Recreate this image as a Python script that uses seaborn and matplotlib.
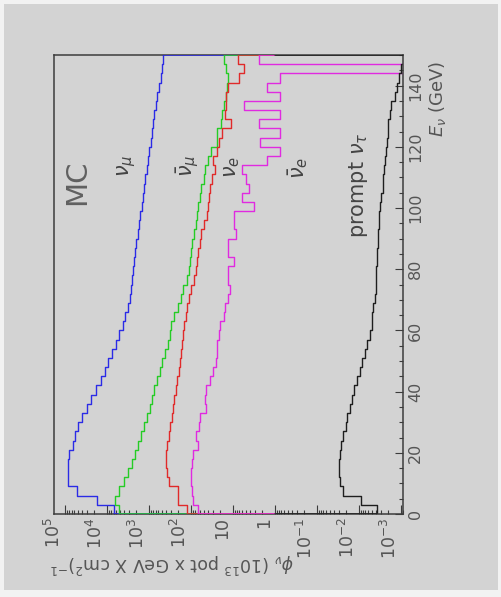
import numpy as np
import pandas as pd
import matplotlib
matplotlib.use("Agg")
import matplotlib.pyplot as plt
import matplotlib.transforms as mtransforms
from matplotlib.patches import Rectangle
from matplotlib.ticker import FixedLocator, FixedFormatter, LogLocator, MultipleLocator, NullFormatter
import seaborn as sns

# ---- data -------------------------------------------------------------
# energy binning (GeV): 50 bins of 3 GeV from 0 to 150
energy_edges = list(range(0, 151, 3))

# flux per bin, units of (10^13 pot x GeV x cm^2)^-1
nu_mu = [6730, 16900, 52400, 85200, 87200, 87200, 79500, 66100, 59000, 49000,
         38900, 29500, 23500, 18600, 14100, 11200, 9340, 7410, 6170, 5130,
         4260, 3800, 3240, 2820, 2640, 2510, 2400, 2290, 2150, 2000,
         1860, 1740, 1620, 1480, 1410, 1320, 1230, 1120, 1050, 977,
         910, 852, 795, 759, 692, 632, 575, 524, 501, 457]

nu_mu_bar = [5130, 6610, 5130, 3890, 3170, 2570, 2180, 1820, 1510, 1320,
             1120, 956, 832, 759, 632, 550, 479, 417, 355, 317,
             302, 251, 204, 170, 151, 126, 112, 105, 97.7, 93.4,
             85.2, 77.7, 72.4, 67.7, 61.7, 59.0, 50.1, 46.8, 38.9, 33.9,
             24.6, 23.5, 19.5, 17.8, 16.2, 14.8, 14.1, 13.5, 14.8, 16.2]

nu_e = [123, 204, 204, 331, 380, 399, 389, 364, 331, 317,
        288, 269, 251, 229, 218, 191, 182, 174, 166, 159,
        145, 135, 123, 112, 97.7, 85.2, 77.7, 70.8, 67.7, 61.7,
        59.0, 49.0, 42.6, 38.9, 37.1, 35.5, 30.9, 26.9, 29.5, 24.6,
        21.3, 17.8, 11.2, 15.9, 14.8, 14.5, 13.5, 7.24, 5.50, 7.77]

nu_e_bar = [67.7, 89.2, 93.4, 97.7, 102, 93.4, 87.2, 67.7, 77.7, 64.6,
            61.7, 44.6, 45.7, 44.6, 35.5, 29.5, 25.7, 23.5, 23.5, 21.3,
            20.4, 16.2, 15.9, 13.5, 11.5, 13.2, 13.2, 9.34, 13.2, 13.5,
            8.52, 9.34, 9.34, 3.17, 6.02, 4.17, 5.01, 6.02, 1.51, 0.76,
            2.29, 0.76, 2.40, 0.76, 5.50, 0.76, 1.51, 0.76, 0.0, 2.40]

prompt_nu_tau = [0.00364, 0.00912, 0.0246, 0.0288, 0.0295, 0.0295, 0.0282, 0.0264, 0.0235, 0.0204,
                 0.0191, 0.0166, 0.0148, 0.0132, 0.0112, 0.00956, 0.00832, 0.00724, 0.00632, 0.00550,
                 0.00501, 0.00479, 0.00457, 0.00426, 0.00399, 0.00399, 0.00389, 0.00380, 0.00364, 0.00355,
                 0.00355, 0.00331, 0.00331, 0.00317, 0.00302, 0.00275, 0.00264, 0.00251, 0.00246, 0.00229,
                 0.00218, 0.00209, 0.00200, 0.00182, 0.00174, 0.00141, 0.00123, 0.00112, 0.00102, 0.0]

# histogram outlines are closed down to this flux level
baseline = 1.0

series = [
    (nu_mu, "#2b2be6"),
    (nu_mu_bar, "#25cc25"),
    (nu_e, "#e02a2a"),
    (nu_e_bar, "#e02ae0"),
    (prompt_nu_tau, "#1e1e1e"),
]

flux_ticks = [1e5, 1e4, 1e3, 1e2, 1e1, 1e0, 1e-1, 1e-2, 1e-3]
flux_tick_labels = [r"$10^{5}$", r"$10^{4}$", r"$10^{3}$", r"$10^{2}$", "10", "1",
                    r"$10^{-1}$", r"$10^{-2}$", r"$10^{-3}$"]
energy_ticks = [0, 20, 40, 60, 80, 100, 120, 140]

# ---- style ------------------------------------------------------------
sns.set_theme(style="ticks")
plt.rcParams["font.family"] = ["DejaVu Sans"]
plt.rcParams["mathtext.fontset"] = "dejavusans"

W, H = 502, 597
BG = "#d3d3d3"
TEXT = "#555555"
FRAME = "#3c3c3c"

fig = plt.figure(figsize=(W / 100, H / 100), dpi=100)
fig.patch.set_facecolor("#f2f2f2")
fig.add_artist(Rectangle((4 / W, 1 - 590 / H), 494 / W, 586 / H,
                         transform=fig.transFigure, facecolor=BG,
                         edgecolor="none", zorder=0))


def fx(px):
    return px / W


def fy(py):
    return 1 - py / H


ax = fig.add_axes([fx(54), fy(514), (403 - 54) / W, (514 - 55) / H])
ax.set_facecolor(BG)

centers = [(a + b) / 2 for a, b in zip(energy_edges[:-1], energy_edges[1:])]

# laid out sideways: energy runs up, flux runs to the left
for values, color in series:
    df = pd.DataFrame({"energy": centers, "flux": values})
    sns.histplot(data=df, y="energy", weights="flux", bins=energy_edges,
                 element="step", fill=False, color=color, linewidth=1.0,
                 log_scale=(True, False), ax=ax, legend=False)
    # close the outline down to the baseline at both ends of the range
    ends = [energy_edges[0], energy_edges[-1]]
    extremes = [values[0], values[-1]]
    for e, v in zip(ends, extremes):
        v_draw = v if v > 0 else 1e-12
        ax.plot([baseline, v_draw], [e, e], color=color, linewidth=1.1,
                clip_on=True, zorder=3)

ax.set_xscale("log")
ax.set_xlim(10 ** 5.262, 10 ** -3.048)
ax.set_ylim(0, 150)
ax.set_xlabel("")
ax.set_ylabel("")

# flux axis (bottom)
ax.xaxis.set_major_locator(FixedLocator(flux_ticks))
ax.xaxis.set_major_formatter(FixedFormatter(flux_tick_labels))
ax.xaxis.set_minor_locator(LogLocator(base=10, subs=np.arange(2, 10), numticks=100))
ax.xaxis.set_minor_formatter(NullFormatter())
ax.tick_params(axis="x", which="major", direction="in", length=6.5, width=0.8,
               color=FRAME, pad=2.5, labelsize=12.5, labelcolor=TEXT,
               labelrotation=90, top=False, bottom=True)
ax.tick_params(axis="x", which="minor", direction="in", length=3.2, width=0.8,
               color=FRAME, top=False, bottom=True)

# energy axis (right)
ax.yaxis.tick_right()
ax.yaxis.set_major_locator(FixedLocator(energy_ticks))
ax.yaxis.set_minor_locator(MultipleLocator(5))
ax.tick_params(axis="y", which="major", direction="in", length=6, width=0.8,
               color=FRAME, pad=3.5, labelsize=11.5, labelcolor=TEXT,
               labelrotation=90, left=False, right=True)
ax.tick_params(axis="y", which="minor", direction="in", length=3, width=0.8,
               color=FRAME, left=False, right=True)
for lab in ax.get_yticklabels():
    lab.set_verticalalignment("center")

# flux labels sit a little to the left of their tick marks
label_shift = mtransforms.ScaledTranslation(-11 / 100, 0, fig.dpi_scale_trans)
for lab in ax.xaxis.get_majorticklabels():
    lab.set_transform(lab.get_transform() + label_shift)

for sp in ax.spines.values():
    sp.set_visible(True)
    sp.set_color(FRAME)
    sp.set_linewidth(1.1)

# axis titles
fig.text(fx(172), fy(563),
         r"$\phi_{\nu}$ (10$^{13}$ pot x GeV X cm$^{2}$)$^{-1}$",
         rotation=180, ha="center", va="center", fontsize=12.5, color=TEXT)
fig.text(fx(438), fy(99), r"$E_{\nu}$ (GeV)", rotation=90,
         ha="center", va="center", fontsize=13, color=TEXT)

# annotations
fig.text(fx(77), fy(182), "MC", rotation=90, ha="center", va="center",
         fontsize=21, color="#606060")
labels = [
    (127, 166, r"$\nu_{\mu}$"),
    (188, 166, r"$\bar{\nu}_{\mu}$"),
    (232, 167, r"$\nu_{e}$"),
    (298, 168, r"$\bar{\nu}_{e}$"),
    (358, 185, r"prompt $\nu_{\tau}$"),
]
for px, py, s in labels:
    fig.text(fx(px), fy(py), s, rotation=90, ha="center", va="center",
             fontsize=15, color="#444444")

fig.savefig("out.png", dpi=100, facecolor=fig.get_facecolor())
